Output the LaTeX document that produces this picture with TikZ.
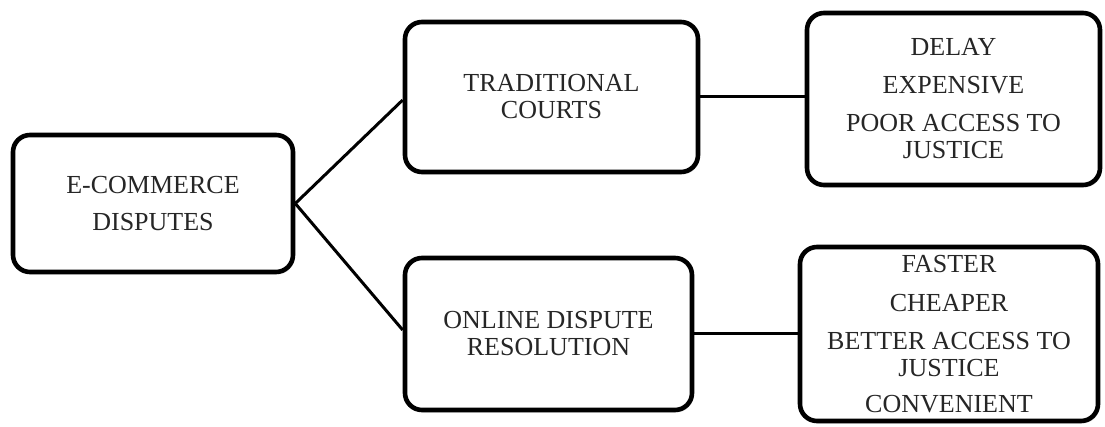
\documentclass[tikz,border=0pt]{standalone}
\usepackage{fontspec}
\setmainfont{Liberation Serif}
\usetikzlibrary{shadows}
\begin{document}
\begin{tikzpicture}[x=1pt,y=-1pt,
  box/.style={draw=black, line width=4.6pt, rounded corners=17pt, fill=white,
    inner sep=0pt, align=center, text=black!85,
    font=\fontsize{26}{27}\selectfont,
    drop shadow={opacity=0.18, shadow xshift=1.5pt, shadow yshift=-2.5pt}},
  link/.style={draw=black, line width=3pt}]
\useasboundingbox (0,0) rectangle (1105,427);
\node[box, minimum width=280pt, minimum height=137pt] (E) at (153,203.5)
  {E-COMMERCE\\[10pt]DISPUTES};
\node[box, minimum width=293pt, minimum height=150pt] (T) at (551.5,97)
  {TRADITIONAL\\COURTS};
\node[box, minimum width=287pt, minimum height=152pt] (O) at (548.5,334)
  {ONLINE DISPUTE\\RESOLUTION};
\node[box, minimum width=293pt, minimum height=172pt] (R1) at (953.5,99)
  {DELAY\\[11pt]EXPENSIVE\\[11pt]POOR ACCESS TO\\JUSTICE};
\node[box, minimum width=298pt, minimum height=174pt] (R2) at (949,334)
  {FASTER\\[12pt]CHEAPER\\[11pt]BETTER ACCESS TO\\JUSTICE\\[9pt]CONVENIENT};
\draw[link] (E.east) -- ([yshift=-3pt]T.west);
\draw[link] (E.east) -- ([yshift=4pt]O.west);
\draw[link] (T.east) -- (T.east -| R1.west);
\draw[link] (O.east) -- (O.east -| R2.west);
\end{tikzpicture}
\end{document}
